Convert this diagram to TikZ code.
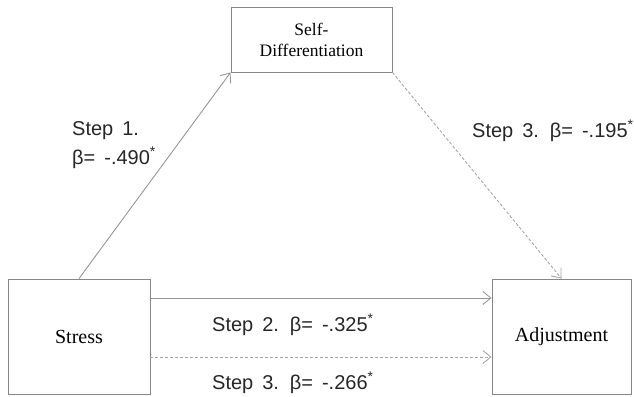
\documentclass[tikz,border=0pt]{standalone}
\usepackage{fontspec}
\setmainfont{Liberation Serif}
\newfontfamily\labfont{Liberation Sans}
\usetikzlibrary{arrows.meta}
\definecolor{linegray}{RGB}{150,150,150}
\definecolor{boxgray}{RGB}{135,135,135}
\definecolor{dashgray}{RGB}{165,165,165}
\newcommand\mylabsetup{\labfont\fontsize{20}{24}\selectfont\spaceskip=0.45em plus 0.1em\relax}
\tikzset{
  box/.style={draw=boxgray, line width=0.9pt, inner sep=0pt, align=center},
  lab/.style={anchor=west, inner sep=0pt, font=\mylabsetup, text=black!85},
  solidarr/.style={draw=linegray, line width=0.9pt, -{Straight Barb[length=8pt,width=13pt]}},
  dasharr/.style={draw=dashgray, line width=0.9pt, dash pattern=on 3pt off 2pt, -{Straight Barb[length=8pt,width=13pt]}}
}
\begin{document}
\begin{tikzpicture}[x=1pt,y=-1pt]
\useasboundingbox (0,0) rectangle (634,396);
\node[box, minimum width=161pt, minimum height=65pt, font=\fontsize{17.5}{21}\selectfont] (sd) at (311.5,39.5) {Self-\\Differentiation};
\node[box, minimum width=142pt, minimum height=115pt, font=\fontsize{20}{24}\selectfont] (stress) at (79,336.5) {Stress};
\node[box, minimum width=139pt, minimum height=115pt, font=\fontsize{20}{24}\selectfont] (adj) at (561.5,336.5) {Adjustment};
\coordinate (s2) at (150,298);
\coordinate (s3) at (150,357);
\draw[solidarr] (stress.north) -- (sd.south west);
\draw[dasharr] (sd.south east) -- (adj.north);
\draw[solidarr] (stress.east |- s2) -- (adj.west |- s2);
\draw[dasharr] (stress.east |- s3) -- (adj.west |- s3);
\node[lab] (l1a) at (72,131) {Step 1.};
\node[lab] (l1b) at (72,158) {β= -.490\textsuperscript{*}};
\node[lab] (l3a) at (472,131) {Step 3. β= -.195\textsuperscript{*}};
\node[lab] (l2) at (212,325) {Step 2. β= -.325\textsuperscript{*}};
\node[lab] (l3b) at (212,383) {Step 3. β= -.266\textsuperscript{*}};
\end{tikzpicture}
\end{document}
